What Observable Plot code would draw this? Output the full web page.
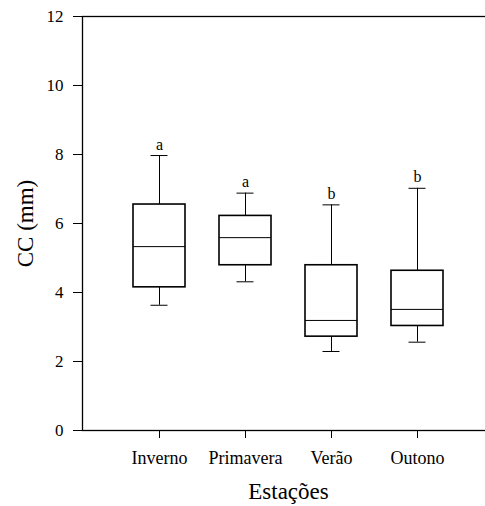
<!DOCTYPE html>
<html>
<head>
<meta charset="utf-8">
<script src="https://cdn.jsdelivr.net/npm/d3@7"></script>
<script src="https://cdn.jsdelivr.net/npm/@observablehq/plot@0.6"></script>
<style>
  html, body { margin: 0; padding: 0; background: #fff; overflow: hidden; }
  #chart svg, #chart svg text { font-family: "Liberation Serif", "Times New Roman", serif; }
</style>
</head>
<body>
<div id="chart"></div>
<script>
// Seasonal box plots of CC (mm) with group letters above each box
const categories = ["Inverno", "Primavera", "Verão", "Outono"];
const whiskerLow = [3.63, 4.31, 2.29, 2.56];
const q1 = [4.15, 4.79, 2.72, 3.03];
const median = [5.33, 5.59, 3.19, 3.51];
const q3 = [6.55, 6.22, 4.79, 4.63];
const whiskerHigh = [7.97, 6.88, 6.54, 7.02];
const groupLetters = ["a", "a", "b", "b"];
const yTicks = [0, 2, 4, 6, 8, 10, 12];
const yTitle = ["CC (mm)"];
const xTitle = ["Estações"];

const serif = "Liberation Serif";

const rows = categories.map((c, i) => ({
  cat: c, lo: whiskerLow[i], q1: q1[i], med: median[i], q3: q3[i], hi: whiskerHigh[i], letter: groupLetters[i]
}));

const chart = Plot.plot({
  width: 485,
  height: 506,
  marginTop: 16,
  marginBottom: 76,
  marginLeft: 82,
  marginRight: -9,
  style: { fontFamily: serif, fontSize: "17px", color: "#000", background: "#fff" },
  x: { type: "band", domain: categories, range: [116, 460], padding: 0 },
  y: { domain: [0, 12] },
  marks: [
    Plot.frame({ stroke: "#000", strokeWidth: 1.3 }),
    // whiskers
    Plot.ruleX(rows, { x: "cat", y1: "lo", y2: "q1", stroke: "#000", strokeWidth: 1 }),
    Plot.ruleX(rows, { x: "cat", y1: "q3", y2: "hi", stroke: "#000", strokeWidth: 1 }),
    Plot.tickY(rows, { x: "cat", y: "lo", insetLeft: 34.5, insetRight: 34.5, stroke: "#000", strokeWidth: 1 }),
    Plot.tickY(rows, { x: "cat", y: "hi", insetLeft: 34.5, insetRight: 34.5, stroke: "#000", strokeWidth: 1 }),
    // boxes and medians
    Plot.barY(rows, { x: "cat", y1: "q1", y2: "q3", insetLeft: 17, insetRight: 17, fill: "#fff", stroke: "#000", strokeWidth: 1.6 }),
    Plot.tickY(rows, { x: "cat", y: "med", insetLeft: 17, insetRight: 17, stroke: "#000", strokeWidth: 1 }),
    // group letters
    Plot.text(rows, { x: "cat", y: "hi", text: "letter", lineAnchor: "bottom", dy: -6, fontSize: 16, fontFamily: serif, fill: "#000" }),
    // axes
    Plot.axisY({ ticks: yTicks, tickFormat: d3.format("d"), tickSize: 9, tickPadding: 10, fontSize: 17, fontFamily: serif, label: null }),
    Plot.axisX({ tickSize: 8, tickPadding: 13, fontSize: 18, fontFamily: serif, label: null }),
    // axis titles
    Plot.text(yTitle, { frameAnchor: "left", textAnchor: "middle", dx: -57, rotate: -90, fontSize: 23, fontFamily: serif, fill: "#000" }),
    Plot.text(xTitle, { frameAnchor: "bottom", textAnchor: "middle", dy: 68, fontSize: 23, fontFamily: serif, fill: "#000" })
  ]
});

document.getElementById("chart").appendChild(chart);
</script>
</body>
</html>
